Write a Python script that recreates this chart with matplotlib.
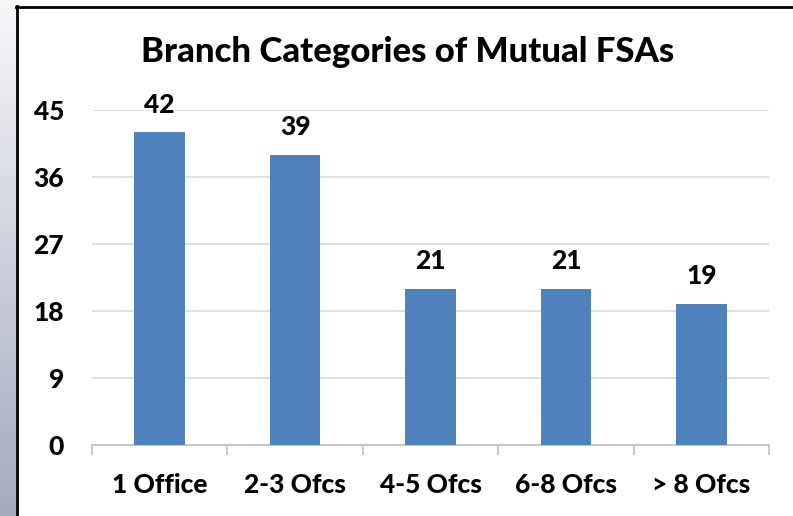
import numpy as np
import matplotlib
matplotlib.use('Agg')
import matplotlib.pyplot as plt

categories = ['1 Office', '2-3 Ofcs', '4-5 Ofcs', '6-8 Ofcs', '> 8 Ofcs']
values = [42, 39, 21, 21, 19]
yticks = [0, 9, 18, 27, 36, 45]

plt.rcParams['font.family'] = ['Lato', 'DejaVu Sans']
WT = 'black'

W, H = 793, 516
fig = plt.figure(figsize=(W / 100, H / 100), dpi=100)

# grey gradient strip at the left edge
strip = fig.add_axes([0, 0, 16 / W, 1])
grad = np.linspace(0, 1, 256).reshape(-1, 1)
top_c = np.array([0.97, 0.97, 0.98])
bot_c = np.array([0.64, 0.67, 0.74])
img = top_c[None, None, :] * (1 - grad[..., None]) + bot_c[None, None, :] * grad[..., None]
strip.imshow(img, aspect='auto', extent=[0, 1, 0, 1])
strip.axis('off')

# black frame lines
fig.add_artist(plt.Line2D([16.5 / W, 16.5 / W], [0, 1 - 6 / H], color='black', lw=2, transform=fig.transFigure))
fig.add_artist(plt.Line2D([16 / W, 1], [1 - 6.5 / H, 1 - 6.5 / H], color='black', lw=2, transform=fig.transFigure))

ax = fig.add_axes([92 / W, 1 - 445 / H, (769 - 92) / W, (445 - 110) / H])
x = np.arange(len(categories))
ax.bar(x, values, width=0.375, color='#4f81bd', zorder=3)
for xi, v in zip(x, values):
    ax.text(xi, v + 2.1, str(v), ha='center', va='bottom', fontsize=19, fontweight=WT)

ax.set_xlim(-0.5, len(categories) - 0.5)
ax.set_ylim(0, 45)
ax.set_yticks(yticks)
ax.set_yticklabels([str(t) for t in yticks], fontsize=19, fontweight=WT)
ax.yaxis.grid(True, color='#d9d9d9', lw=1.2, zorder=0)
ax.tick_params(axis='y', length=0, pad=20)

ax.set_xticks(x)
ax.set_xticklabels(categories, fontsize=19, fontweight=WT)
ax.tick_params(axis='x', length=0, pad=20)
ax.set_xticks(np.arange(-0.5, len(categories), 1), minor=True)
ax.tick_params(axis='x', which='minor', length=7, color='#bfbfbf', width=1.2)

for s in ['top', 'right', 'left']:
    ax.spines[s].set_visible(False)
ax.spines['bottom'].set_color('#bfbfbf')
ax.spines['bottom'].set_linewidth(1.2)

fig.text(408 / W, 1 - 52 / H, 'Branch Categories of Mutual FSAs', ha='center', va='center',
         fontsize=25, fontweight=WT)

fig.savefig('out.png', dpi=100)
